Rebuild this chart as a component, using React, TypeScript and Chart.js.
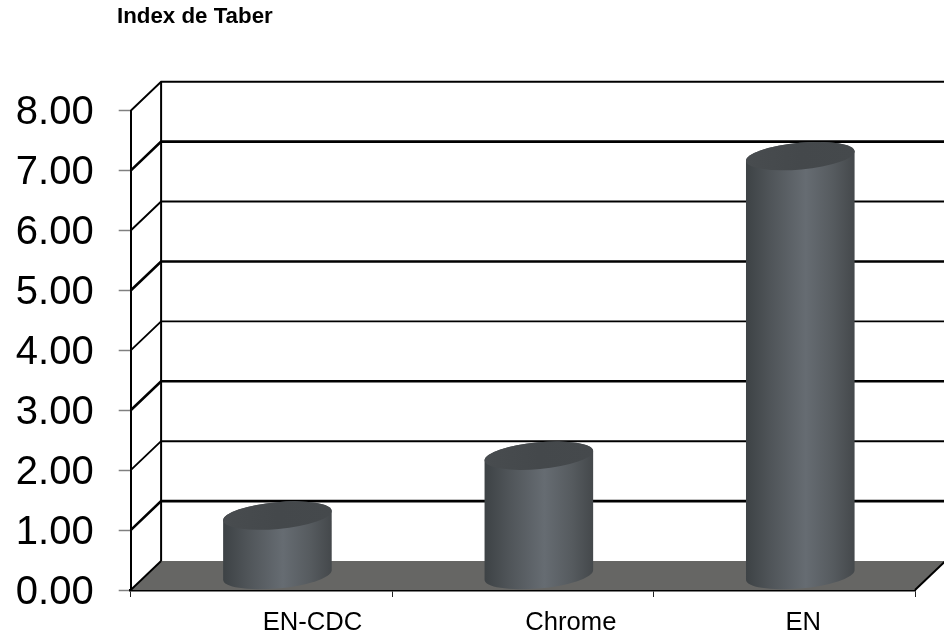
import { useEffect, useRef } from "react";
import { Chart, registerables } from "chart.js";

Chart.register(...registerables);

const titleText = "Index de Taber";
const categories = ["EN-CDC", "Chrome", "EN"];
const taberIndex = [1, 2, 7];
const labelShifts = [51, 48, 19];

const FONT = "'Liberation Sans', Arial, sans-serif";
const depthX = 30.4;
const depthY = -29;
const barTilt = (-5.2 * Math.PI) / 180;
const barRadiusY = 13.4;
const barNudgeX = 0.8;
const valueLabelDrop = 2.5;

// Paints the floor, the back and side walls, and the cylinders of the 3D column look.
const scenePlugin = {
  id: "cylinderScene",
  beforeDraw(chart: any) {
    // Nudges each category label sideways from its slot centre, and drops the value labels a touch.
    const xScale = chart.scales.x;
    xScale.getLabelItems().forEach((item: any, i: number) => {
      item.options.translation[0] = xScale.getPixelForTick(i) + labelShifts[i];
    });
    const yScale = chart.scales.y;
    yScale.getLabelItems().forEach((item: any, i: number) => {
      item.options.translation[1] = yScale.getPixelForTick(i) + valueLabelDrop;
    });
    const ctx = chart.ctx;
    ctx.save();
    ctx.font = `bold 22.3px ${FONT}`;
    ctx.fillStyle = "#000";
    ctx.textAlign = "left";
    ctx.textBaseline = "alphabetic";
    ctx.fillText(titleText, 117, 23);
    ctx.restore();
  },
  beforeDatasetsDraw(chart: any) {
    const { ctx, chartArea, scales } = chart;
    const { left, right, bottom } = chartArea;
    const y = scales.y;
    ctx.save();

    // Floor
    ctx.beginPath();
    ctx.moveTo(left, bottom);
    ctx.lineTo(right, bottom);
    ctx.lineTo(right + depthX, bottom + depthY);
    ctx.lineTo(left + depthX, bottom + depthY);
    ctx.closePath();
    ctx.fillStyle = "#666664";
    ctx.fill();

    ctx.strokeStyle = "#000";
    ctx.lineJoin = "miter";

    // Gridlines running across the side wall and along the back wall
    y.ticks.forEach((tick: any, i: number) => {
      const py = y.getPixelForValue(tick.value);
      ctx.lineWidth = i % 2 === 1 ? 2.6 : 1.9;
      ctx.beginPath();
      ctx.moveTo(left, py);
      ctx.lineTo(left + depthX, py + depthY);
      if (i > 0) ctx.lineTo(right + depthX, py + depthY);
      ctx.stroke();
    });

    // Floor's right edge
    ctx.lineWidth = 2;
    ctx.beginPath();
    ctx.moveTo(right, bottom);
    ctx.lineTo(right + depthX, bottom + depthY);
    ctx.stroke();

    // Back wall's vertical edge
    ctx.beginPath();
    ctx.moveTo(left + depthX, y.getPixelForValue(y.max) + depthY);
    ctx.lineTo(left + depthX, bottom + depthY);
    ctx.stroke();
    ctx.restore();
  },
  afterDatasetsDraw(chart: any) {
    const { ctx } = chart;
    const cosT = Math.cos(barTilt);
    const sinT = Math.sin(barTilt);
    chart.getDatasetMeta(0).data.forEach((bar: any) => {
      const cx = bar.x + depthX / 2 + barNudgeX;
      const rx = bar.width / 2;
      const topY = bar.y + depthY / 2;
      const baseY = bar.base + depthY / 2;
      const t0 = Math.atan2(-barRadiusY * sinT, rx * cosT);

      const body = ctx.createLinearGradient(cx - rx, 0, cx + rx, 0);
      body.addColorStop(0, "#3d4245");
      body.addColorStop(0.22, "#4f5458");
      body.addColorStop(0.55, "#666c72");
      body.addColorStop(0.8, "#565b5f");
      body.addColorStop(1, "#44484b");

      ctx.save();
      ctx.beginPath();
      ctx.ellipse(cx, baseY, rx, barRadiusY, barTilt, t0, t0 + Math.PI);
      ctx.ellipse(cx, topY, rx, barRadiusY, barTilt, t0 + Math.PI, t0 + 2 * Math.PI);
      ctx.closePath();
      ctx.fillStyle = body;
      ctx.fill();

      const cap = ctx.createLinearGradient(cx - rx, 0, cx + rx, 0);
      cap.addColorStop(0, "#484c4f");
      cap.addColorStop(0.5, "#44484b");
      cap.addColorStop(1, "#45494c");
      ctx.beginPath();
      ctx.ellipse(cx, topY, rx, barRadiusY, barTilt, 0, 2 * Math.PI);
      ctx.fillStyle = cap;
      ctx.fill();
      ctx.restore();
    });
  },
};

export default function App() {
  const canvasRef = useRef<HTMLCanvasElement>(null);

  useEffect(() => {
    const chart = new Chart(canvasRef.current as HTMLCanvasElement, {
      type: "bar",
      data: {
        labels: categories,
        datasets: [
          {
            label: titleText,
            data: taberIndex,
            backgroundColor: "transparent",
            barPercentage: 0.417,
            categoryPercentage: 1,
          },
        ],
      },
      options: {
        animation: false,
        responsive: false,
        devicePixelRatio: 1,
        layout: { padding: { top: 110.7, right: 29 } },
        plugins: { legend: { display: false }, tooltip: { enabled: false } },
        scales: {
          x: {
            afterFit(scale: any) {
              scale.height = 44;
              scale.paddingBottom = 0;
            },
            grid: { drawOnChartArea: false, tickLength: 7, tickColor: "#222", tickWidth: 1 },
            border: { color: "#000", width: 2.5 },
            ticks: {
              color: "#000",
              padding: 11,
              maxRotation: 0,
              autoSkip: false,
              font: { family: FONT, size: 25.6 },
            },
          },
          y: {
            min: 0,
            max: 8,
            afterFit(scale: any) {
              scale.width = 130.7;
              scale.paddingBottom = 0;
            },
            grid: { drawOnChartArea: false, tickLength: 12, tickColor: "#808080", tickWidth: 1.5 },
            border: { color: "#000", width: 2 },
            ticks: {
              stepSize: 1,
              color: "#000",
              padding: 25,
              font: { family: FONT, size: 40 },
              callback: (value: any) => Number(value).toFixed(2),
            },
          },
        },
      },
      plugins: [scenePlugin],
    } as any);
    return () => chart.destroy();
  }, []);

  return (
    <div style={{ position: "fixed", left: 0, top: 0, width: 944, height: 634, background: "#fff" }}>
      <canvas ref={canvasRef} width={944} height={634} style={{ display: "block" }} />
    </div>
  );
}
